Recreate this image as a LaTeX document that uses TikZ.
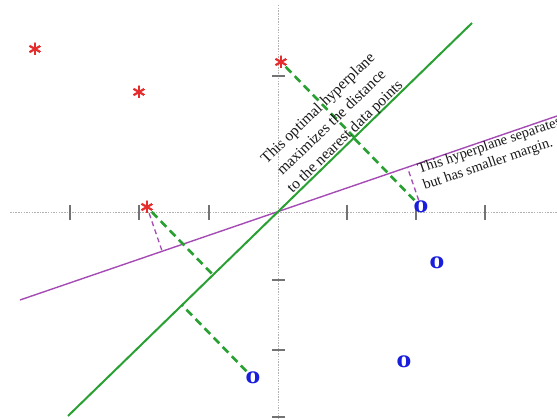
\documentclass[tikz,border=0pt]{standalone}
\usepackage{fontspec}
\setmainfont{Liberation Serif}
\newfontfamily\markfont{DejaVu Serif}
\usetikzlibrary{calc}
\definecolor{svmgreen}{RGB}{40,160,50}
\definecolor{svmpurple}{RGB}{165,75,180}
\definecolor{starred}{RGB}{230,45,45}
\definecolor{oblue}{RGB}{25,30,220}
\tikzset{
  axisline/.style={gray!60, line width=0.8pt, dash pattern=on 1.5pt off 1.2pt},
  tickmark/.style={gray!90!black, line width=1.3pt},
  greenline/.style={svmgreen, line width=2pt},
  purpleline/.style={svmpurple, line width=1.4pt},
  greendash/.style={svmgreen, line width=2.6pt, dash pattern=on 8pt off 5pt},
  purpledash/.style={svmpurple, line width=1.3pt, dash pattern=on 5pt off 3.5pt},
  starnode/.style={circle, minimum size=13pt, inner sep=0pt,
    path picture={\foreach \a in {90,30,150}{\draw[starred,line width=2.2pt]
      ($(path picture bounding box.center)+(\a:6.5pt)$) --
      ($(path picture bounding box.center)+(\a+180:6.5pt)$);}}},
  onode/.style={inner sep=0.5pt, text=oblue, font=\markfont\fontsize{22}{22}\selectfont\bfseries},
  labeltext/.style={inner sep=0pt, text=black!90}
}
\begin{document}
\begin{tikzpicture}[x=1pt,y=-1pt]
\useasboundingbox (0,0) rectangle (557,419);
\clip (0,0) rectangle (557,419);
% axes
\draw[axisline] (10,212) -- (557,212);
\draw[axisline] (278,5) -- (278,419);
\foreach \t in {70,139,209,347,416,485} \draw[tickmark] (\t,205) -- (\t,220);
\foreach \t in {76,280,350,417} \draw[tickmark] (272,\t) -- (285,\t);
% hyperplane end points
\coordinate (g1) at (68,416);
\coordinate (g2) at (472,23);
\coordinate (p1) at (20,300);
\coordinate (p2) at (557,116);
\draw[purpleline] (p1) -- (p2);
\draw[greenline] (g1) -- (g2);
% data points
\node[starnode] (s1) at (35,49) {};
\node[starnode] (s2) at (139,92) {};
\node[starnode] (s3) at (281,62) {};
\node[starnode] (s4) at (147,207) {};
\node[onode] (o1) at (421,207) {o};
\node[onode] (o2) at (437,263) {o};
\node[onode] (o3) at (404,362) {o};
\node[onode] (o4) at (253,378) {o};
% feet of perpendiculars
\coordinate (fg1) at ($(g1)!(s3)!(g2)$);
\coordinate (fg2) at ($(g1)!(o1)!(g2)$);
\coordinate (fg3) at ($(g1)!(s4)!(g2)$);
\coordinate (fg4) at ($(g1)!(o4)!(g2)$);
\coordinate (fp1) at ($(p1)!(s4)!(p2)$);
\coordinate (fp2) at ($(p1)!(o1)!(p2)$);
\draw[purpledash] (s4) -- (fp1);
\draw[purpledash] (o1) -- (fp2);
\draw[greendash] (s3) -- (fg1);
\draw[greendash] (o1) -- (fg2);
\draw[greendash] (s4) -- (fg3);
\draw[greendash] (o4) -- (fg4);
% labels
\node[labeltext, rotate=44, align=center, font=\fontsize{15.5}{19.5}\selectfont] (t1) at (332,123)
  {This optimal hyperplane\\maximizes the distance\\to the nearest data points};
\node[labeltext, rotate=18.8, align=left, anchor=north west, font=\fontsize{14.5}{17}\selectfont] (t2) at (416,164)
  {This hyperplane separates\\but has smaller margin.};
\end{tikzpicture}
\end{document}
